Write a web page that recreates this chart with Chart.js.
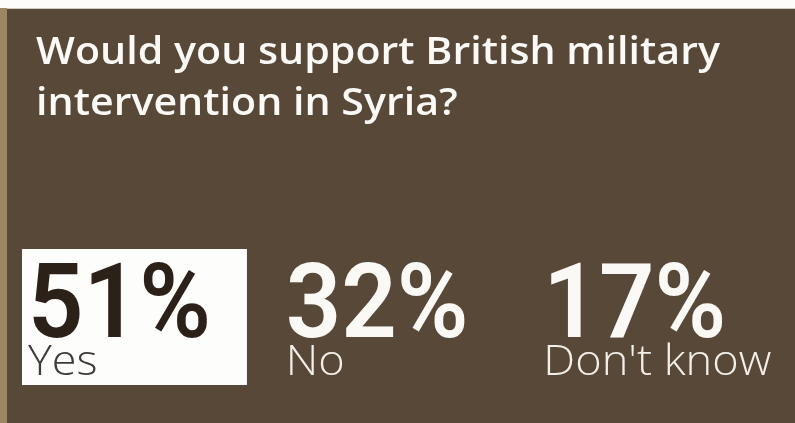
<!DOCTYPE html>
<html>
<head>
<meta charset="utf-8">
<script src="https://cdn.jsdelivr.net/npm/chart.js@4.4.1/dist/chart.umd.min.js"></script>
<style>
  html, body { margin: 0; padding: 0; background: #574838; }
  #wrap { width: 795px; height: 423px; position: relative; }
</style>
</head>
<body>
<div id="wrap"><canvas id="poll-chart"></canvas></div>
<script>
// poll data
var titleLines = ["Would you support British military", "intervention in Syria?"];
var answers = ["Yes", "No", "Don't know"];
var shares = [51, 32, 17];

var BG = '#574838';
var NUM_FONT = '600 104px Roboto';
var LAB_FONT = '300 42px "Open Sans"';

// draw text squeezed/stretched horizontally by sx
function drawScaled(c, txt, x, y, sx) {
	c.save();
	c.translate(x, y);
	c.scale(sx, 1);
	c.fillText(txt, 0, 0);
	c.restore();
}

//--------------------------------------------- background + text drawn on bar positions ----------------------------------------------------------
var pollPainter = {
	id: 'pollPainter',
	beforeDraw: function(chart) {
		var c = chart.ctx;
		c.save();
		c.fillStyle = BG;
		c.fillRect(0, 0, chart.width, chart.height);
		// tan edge on the left, white strip on top
		c.fillStyle = '#9c8664';
		c.fillRect(0, 0, 7, chart.height);
		c.fillStyle = '#fdfcfa';
		c.fillRect(0, 0, chart.width, 8);
		c.fillStyle = '#cfc8bf';
		c.fillRect(7, 8, chart.width, 1);

		// title, stretched a bit to the wide original face
		c.fillStyle = '#fbf9f6';
		c.font = '600 37px "Open Sans"';
		c.textBaseline = 'alphabetic';
		var sx = 684 / c.measureText(titleLines[0]).width;
		drawScaled(c, titleLines[0], 36, 64, sx);
		drawScaled(c, titleLines[1], 36, 115, sx);
		c.restore();
	},
	afterDatasetsDraw: function(chart) {
		var c = chart.ctx;
		var meta = chart.getDatasetMeta(0);
		var xs = chart.scales.x;
		var band = (xs.right - xs.left) / answers.length;
		c.save();
		c.textBaseline = 'alphabetic';
		c.font = NUM_FONT;
		var numSx = 183 / c.measureText(shares[0] + '%').width;
		c.font = LAB_FONT;
		var labSx = 228 / c.measureText(answers[2]).width;
		meta.data.forEach(function(bar, i) {
			var left = bar.x - band / 2;
			if (i === 0) {
				// winning answer gets a white card
				c.fillStyle = '#fdfdfb';
				c.fillRect(left, 249, band * 0.873, 136);
			}
			c.font = NUM_FONT;
			c.fillStyle = i === 0 ? '#2b2118' : '#fbf9f6';
			drawScaled(c, shares[i] + '%', left + 6, 337, numSx);
			c.font = LAB_FONT;
			c.fillStyle = i === 0 ? '#3e3a36' : '#f3efe9';
			drawScaled(c, answers[i], left + 6, 375, labSx);
		});
		c.restore();
	}
};

var ctx = document.getElementById('poll-chart').getContext('2d');
var pollChart = new Chart(ctx, {
	type: 'bar',
	data: {
		labels: answers,
		datasets: [{
			data: shares,
			backgroundColor: 'rgba(0,0,0,0)',
			borderWidth: 0
		}]
	},
	options: {
		responsive: true,
		maintainAspectRatio: false,
		animation: false,
		devicePixelRatio: 1,
		layout: { padding: { left: 22, right: 0, top: 250, bottom: 40 } },
		plugins: {
			legend: { display: false },
			tooltip: { enabled: false },
			title: { display: false }
		},
		scales: {
			x: { display: false },
			y: { display: false, min: 0, max: 100 }
		}
	},
	plugins: [pollPainter]
});
</script>
</body>
</html>
